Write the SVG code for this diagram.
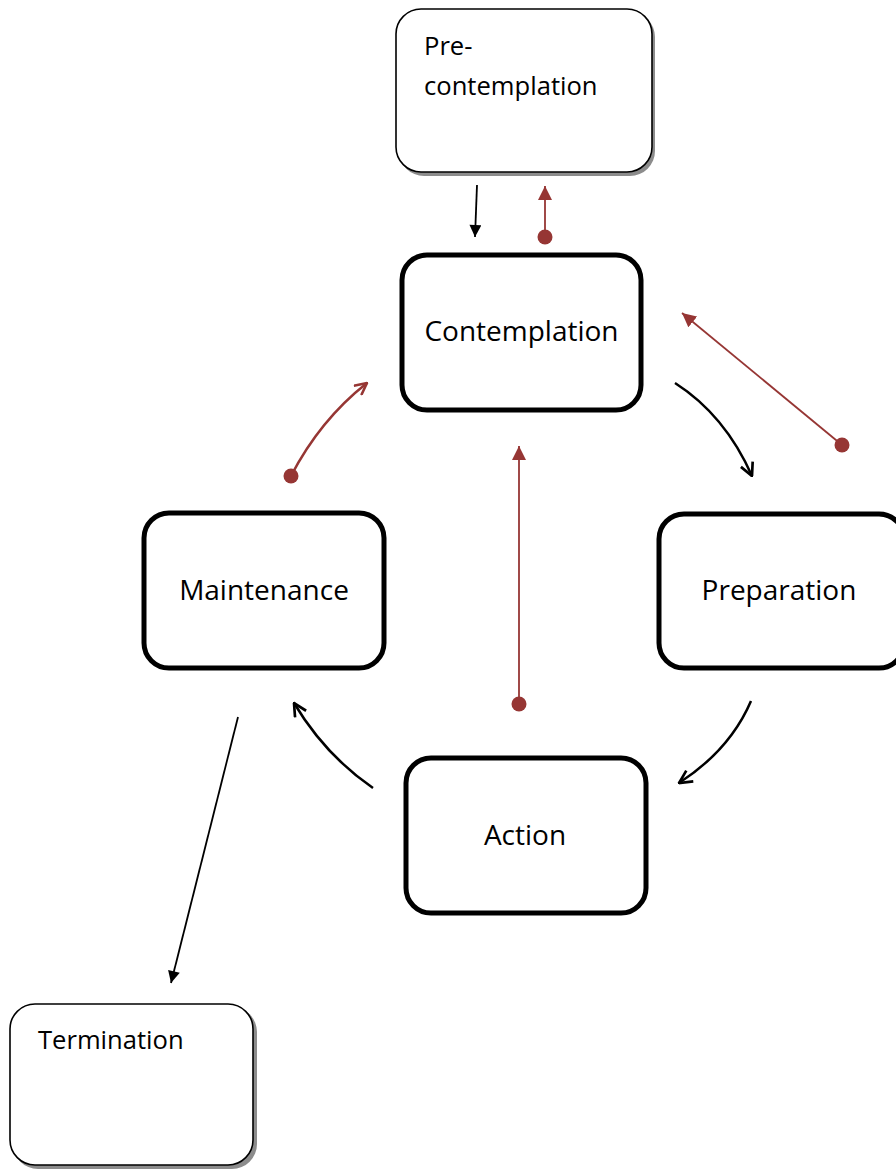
<svg xmlns="http://www.w3.org/2000/svg" width="896" height="1170" viewBox="0 0 896 1170">
<style>
.thin{fill:#fff;stroke:#000;stroke-width:1.6}
.shadow{fill:#8c8c8c;stroke:none}
.thick{fill:#fff;stroke:#000;stroke-width:5}
.lbl{font-family:"Open Sans","Noto Sans",sans-serif;font-size:28px;fill:#000}
.lbs{font-family:"Open Sans","Noto Sans",sans-serif;font-size:25.6px;fill:#000}
.blk{fill:none;stroke:#000;stroke-width:1.8}
.blkc{fill:none;stroke:#000;stroke-width:2.5}
.red{fill:none;stroke:#963634;stroke-width:1.8}
.redc{fill:none;stroke:#963634;stroke-width:2.5}
.dot{fill:#963634}
</style>
<defs>
<marker id="openBlk" viewBox="0 0 14 14" refX="13" refY="7" markerWidth="15" markerHeight="15" markerUnits="userSpaceOnUse" orient="auto"><path d="M1,1 L13,7 L1,13" fill="none" stroke="#000" stroke-width="2.5"/></marker>
<marker id="openRed" viewBox="0 0 14 14" refX="13" refY="7" markerWidth="14" markerHeight="14" markerUnits="userSpaceOnUse" orient="auto"><path d="M1,1 L13,7 L1,13" fill="none" stroke="#963634" stroke-width="2.5"/></marker>
<marker id="fillBlk" viewBox="0 0 12 12" refX="12" refY="6" markerWidth="14" markerHeight="12" markerUnits="userSpaceOnUse" orient="auto"><path d="M0,0 L12,6 L0,12Z" fill="#000"/></marker>
<marker id="fillRed" viewBox="0 0 12 12" refX="12" refY="6" markerWidth="14" markerHeight="14" markerUnits="userSpaceOnUse" orient="auto"><path d="M0,0 L12,6 L0,12Z" fill="#963634"/></marker>
</defs>
<g id="precontemplation">
<rect class="shadow" x="399" y="12" width="256" height="164" rx="25"/>
<rect class="thin" x="396" y="9" width="256" height="163" rx="25"/>
<text class="lbs" x="424" y="55">Pre-</text>
<text class="lbs" x="424" y="95">contemplation</text>
</g>
<g id="contemplation">
<rect class="thick" x="402" y="255" width="239" height="155" rx="25"/>
<text class="lbl" x="521.5" y="341" text-anchor="middle">Contemplation</text>
</g>
<g id="preparation">
<rect class="thick" x="659" y="514" width="245" height="154" rx="25"/>
<text class="lbl" x="779" y="600" text-anchor="middle">Preparation</text>
</g>
<g id="maintenance">
<rect class="thick" x="144" y="513" width="240" height="155" rx="25"/>
<text class="lbl" x="264" y="600" text-anchor="middle">Maintenance</text>
</g>
<g id="action">
<rect class="thick" x="406" y="758" width="240" height="155" rx="25"/>
<text class="lbl" x="525" y="845" text-anchor="middle">Action</text>
</g>
<g id="termination">
<rect class="shadow" x="13" y="1007" width="244" height="162" rx="25"/>
<rect class="thin" x="10" y="1004" width="243" height="161" rx="25"/>
<text class="lbs" x="38" y="1049">Termination</text>
</g>
<g id="connectors">
<path class="blk" d="M477,185 L475,237" marker-end="url(#fillBlk)"/>
<path class="red" d="M545,237 L545,186" marker-end="url(#fillRed)"/>
<circle class="dot" cx="545" cy="237" r="7.5"/>
<path class="red" d="M842,445 L682,313" marker-end="url(#fillRed)"/>
<circle class="dot" cx="842" cy="445" r="7.5"/>
<path class="blkc" d="M675,383 Q725,415 752,476" marker-end="url(#openBlk)"/>
<path class="redc" d="M291,476 Q320,420 367,383" marker-end="url(#openRed)"/>
<circle class="dot" cx="291" cy="476" r="7.5"/>
<path class="red" d="M519,704 L519,446" marker-end="url(#fillRed)"/>
<circle class="dot" cx="519" cy="704" r="7.5"/>
<path class="blkc" d="M751,701 Q730,750 679,783" marker-end="url(#openBlk)"/>
<path class="blkc" d="M373,788 Q325,755 294,703" marker-end="url(#openBlk)"/>
<path class="blk" d="M238,717 L171,983" marker-end="url(#fillBlk)"/>
</g>
</svg>
